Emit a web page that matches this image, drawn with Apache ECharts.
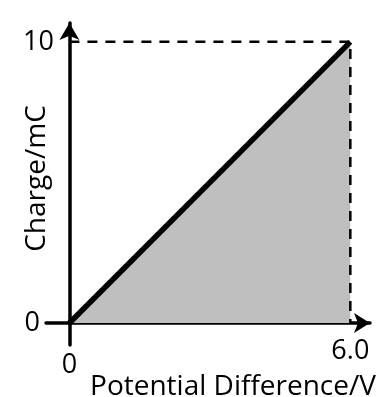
<!DOCTYPE html>
<html>
<head>
<meta charset="utf-8">
<script src="https://cdn.jsdelivr.net/npm/echarts@6/dist/echarts.min.js"></script>
<style>
html,body{margin:0;padding:0;background:#fff;}
#chart{width:381px;height:397px;}
</style>
</head>
<body>
<div id="chart"></div>
<script>
// Data
const potentialDifference = [0, 6.0];   // V
const charge = [0, 10];                 // mC
const xTickValues = [0, 6];
const xTickLabels = ['0', '6.0'];
const yTickValues = [0, 10];
const yTickLabels = ['0', '10'];
const xAxisName = 'Potential Difference/V';
const yAxisName = 'Charge/mC';

const linePoints = potentialDifference.map((v, i) => [v, charge[i]]);
const xEnd = potentialDifference[potentialDifference.length - 1];
const yEnd = charge[charge.length - 1];
const dashPoints = [[0, yEnd], [xEnd, yEnd], [xEnd, 0]];

const FONT = 'Open Sans';
const chart = echarts.init(document.getElementById('chart'), null, {renderer: 'canvas'});
chart.setOption({
  animation: false,
  backgroundColor: '#ffffff',
  grid: {left: 46, right: 11, top: 23, bottom: 52, containLabel: false, outerBoundsMode: 'none'},
  xAxis: {
    type: 'value',
    min: -0.5, max: 6.42,
    splitLine: {show: false},
    axisTick: {show: false},
    axisLine: {
      show: true, onZero: true,
      symbol: ['none', 'arrow'], symbolSize: [15, 16],
      lineStyle: {color: '#000', width: 3.5}
    },
    axisLabel: {
      customValues: xTickValues,
      margin: -7,
      formatter: v => {
        const i = xTickValues.indexOf(v);
        return i === 0 ? '{z|' + xTickLabels[i] + '}' : '{s|' + xTickLabels[i] + '}';
      },
      rich: {
        z: {fontFamily: FONT, fontSize: 27, color: '#000', padding: [14, 0, 0, 0]},
        s: {fontFamily: FONT, fontSize: 27, color: '#000'}
      }
    },
    name: xAxisName,
    nameLocation: 'middle',
    nameGap: 28,
    nameMoveOverlap: false,
    nameTextStyle: {fontFamily: FONT, fontSize: 28, color: '#000', padding: [0, 0, 0, 50]}
  },
  yAxis: {
    type: 'value',
    min: -0.78, max: 10.67,
    splitLine: {show: false},
    axisTick: {show: false},
    axisLine: {
      show: true, onZero: true,
      symbol: ['none', 'arrow'], symbolSize: [15, 17],
      lineStyle: {color: '#000', width: 3.5}
    },
    axisLabel: {
      customValues: yTickValues,
      margin: -8,
      formatter: v => {
        const i = yTickValues.indexOf(v);
        return i === 0 ? '{z|' + yTickLabels[i] + '}' : '{t|' + yTickLabels[i] + '}';
      },
      rich: {
        z: {fontFamily: FONT, fontSize: 27, color: '#000', padding: [0, 14, 0, 0]},
        t: {fontFamily: FONT, fontSize: 27, color: '#000'}
      }
    },
    name: yAxisName,
    nameLocation: 'middle',
    nameGap: -5,
    nameMoveOverlap: false,
    nameTextStyle: {fontFamily: FONT, fontSize: 28, color: '#000', padding: [0, 0, 0, 11]}
  },
  series: [
    {
      type: 'line',
      data: linePoints,
      symbol: 'none',
      silent: true,
      lineStyle: {width: 0, opacity: 0},
      areaStyle: {color: '#bfbfbf', opacity: 1},
      z: 1
    },
    {
      type: 'line',
      data: dashPoints,
      symbol: 'none',
      silent: true,
      lineStyle: {color: '#000', width: 2.5, type: [10, 8]},
      z: 2
    },
    {
      type: 'line',
      data: linePoints,
      symbol: 'none',
      silent: true,
      lineStyle: {color: '#000', width: 5.5},
      z: 3
    }
  ]
});
</script>
</body>
</html>
